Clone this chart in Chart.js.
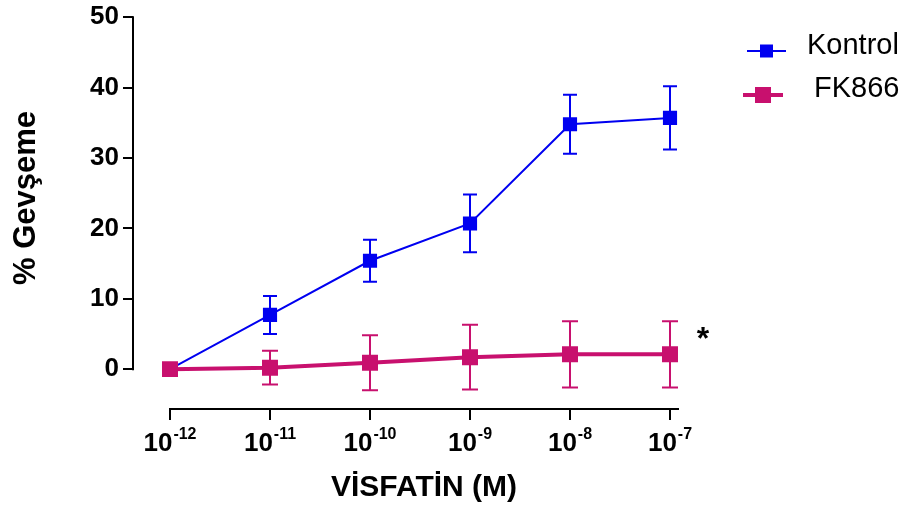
<!DOCTYPE html>
<html><head><meta charset="utf-8">
<script src="https://cdn.jsdelivr.net/npm/chart.js@4.4.0/dist/chart.umd.min.js"></script>
<style>html,body{margin:0;padding:0;background:#fff}#wrap{width:906px;height:507px}</style>
</head><body><div id="wrap"><canvas id="c" width="906" height="507"></canvas></div>
<script>
// ---- data ----
const exponents = [-12, -11, -10, -9, -8, -7];
const tickBase = ['10', '10', '10', '10', '10', '10'];
const tickExp = ['-12', '-11', '-10', '-9', '-8', '-7'];
const kontrolMean = [0, 7.7, 15.4, 20.7, 34.8, 35.7];
const kontrolSem = [0, 2.7, 3.0, 4.1, 4.2, 4.5];
const fkMean = [0, 0.2, 0.9, 1.7, 2.1, 2.1];
const fkSem = [0, 2.4, 3.9, 4.6, 4.7, 4.7];
const yTicks = [0, 10, 20, 30, 40, 50];
const seriesNames = ['Kontrol', 'FK866'];
const xTitle = 'VİSFATİN (M)';
const yTitle = '% Gevşeme';
const sigMark = '*';

const BLUE = '#0000F0';
const MAG = '#C8106E';
const FONT = "'Liberation Sans', Arial, sans-serif";
const semByIndex = [kontrolSem, fkSem];
const capHalf = [7, 8];

const toPoints = (m) => exponents.map((e, i) => ({x: e, y: m[i]}));

const decor = {
  id: 'decor',
  beforeDatasetsDraw(chart) {
    const {ctx, scales: {x, y}, chartArea} = chart;
    ctx.save();
    ctx.strokeStyle = '#000';
    ctx.lineWidth = 2;
    ctx.beginPath();
    ctx.moveTo(chartArea.left, y.getPixelForValue(yTicks[yTicks.length - 1]) - 1);
    ctx.lineTo(chartArea.left, y.getPixelForValue(yTicks[0]) + 1);
    ctx.moveTo(x.getPixelForValue(exponents[0]) - 1, chartArea.bottom);
    ctx.lineTo(x.getPixelForValue(exponents[exponents.length - 1] + 0.09), chartArea.bottom);
    ctx.stroke();
    chart.data.datasets.forEach((ds, di) => {
      const sem = semByIndex[di];
      ctx.strokeStyle = ds.borderColor;
      ctx.lineWidth = 2;
      ds.data.forEach((p, i) => {
        const s = sem[i];
        if (!s) return;
        const px = x.getPixelForValue(p.x);
        const t = y.getPixelForValue(p.y + s);
        const b = y.getPixelForValue(p.y - s);
        const c = capHalf[di];
        ctx.beginPath();
        ctx.moveTo(px, t); ctx.lineTo(px, b);
        ctx.moveTo(px - c, t); ctx.lineTo(px + c, t);
        ctx.moveTo(px - c, b); ctx.lineTo(px + c, b);
        ctx.stroke();
      });
    });
    ctx.restore();
  },
  afterDraw(chart) {
    const {ctx, scales: {x, y}, chartArea} = chart;
    ctx.save();
    ctx.fillStyle = '#000';
    exponents.forEach((e, i) => {
      const px = x.getPixelForValue(e);
      ctx.font = 'bold 26px ' + FONT;
      const wb = ctx.measureText(tickBase[i]).width;
      ctx.font = 'bold 16px ' + FONT;
      const we = ctx.measureText(tickExp[i]).width;
      const x0 = px - (wb + we + 1) / 2;
      ctx.textAlign = 'left';
      ctx.textBaseline = 'alphabetic';
      ctx.font = 'bold 26px ' + FONT;
      ctx.fillText(tickBase[i], x0, chartArea.bottom + 42);
      ctx.font = 'bold 16px ' + FONT;
      ctx.fillText(tickExp[i], x0 + wb + 1, chartArea.bottom + 30);
    });
    ctx.font = 'bold 30px ' + FONT;
    ctx.textAlign = 'center';
    ctx.textBaseline = 'alphabetic';
    ctx.fillText(xTitle, 424, 496);
    ctx.save();
    ctx.translate(35, 198);
    ctx.rotate(-Math.PI / 2);
    ctx.font = 'bold 31px ' + FONT;
    ctx.fillText(yTitle, 0, 0);
    ctx.restore();
    ctx.font = 'bold 32px ' + FONT;
    ctx.fillText(sigMark, x.getPixelForValue(-6.67), y.getPixelForValue(2.8));
    const items = [
      {name: seriesNames[0], color: BLUE, lw: 2, sq: 13, x1: 747, x2: 786, cy: 51, tx: 807, ty: 54},
      {name: seriesNames[1], color: MAG, lw: 4, sq: 16, x1: 743, x2: 783, cy: 95, tx: 814, ty: 97}
    ];
    items.forEach(it => {
      ctx.strokeStyle = it.color;
      ctx.fillStyle = it.color;
      ctx.lineWidth = it.lw;
      ctx.beginPath();
      ctx.moveTo(it.x1, it.cy); ctx.lineTo(it.x2, it.cy);
      ctx.stroke();
      const cx = (it.x1 + it.x2) / 2;
      ctx.fillRect(cx - it.sq / 2, it.cy - it.sq / 2, it.sq, it.sq);
      ctx.fillStyle = '#000';
      ctx.font = '29px ' + FONT;
      ctx.textAlign = 'left';
      ctx.fillText(it.name, it.tx, it.ty);
    });
    ctx.restore();
  }
};

new Chart(document.getElementById('c'), {
  type: 'line',
  data: {
    datasets: [
      {
        label: seriesNames[0], data: toPoints(kontrolMean),
        borderColor: BLUE, backgroundColor: BLUE, borderWidth: 2,
        pointStyle: 'rect', pointRadius: 10, pointBorderWidth: 0, pointBackgroundColor: BLUE,
        tension: 0, order: 2
      },
      {
        label: seriesNames[1], data: toPoints(fkMean),
        borderColor: MAG, backgroundColor: MAG, borderWidth: 4,
        pointStyle: 'rect', pointRadius: 11.3, pointBorderWidth: 0, pointBackgroundColor: MAG,
        tension: 0, order: 1
      }
    ]
  },
  options: {
    responsive: false, animation: false, devicePixelRatio: 1,
    layout: {padding: {top: 10, right: 191, bottom: 0, left: 0}},
    plugins: {legend: {display: false}, tooltip: {enabled: false}},
    scales: {
      x: {
        type: 'linear', min: -12.37, max: -6.55,
        afterBuildTicks: s => { s.ticks = exponents.map(v => ({value: v})); },
        afterFit: s => { s.height = 98; s.paddingLeft = 0; s.paddingRight = 0; },
        grid: {display: true, drawOnChartArea: false, drawTicks: true, tickLength: 11, color: '#000', lineWidth: 2},
        border: {display: false},
        ticks: {display: false}
      },
      y: {
        type: 'linear', min: -5.666, max: 50.85,
        afterBuildTicks: s => { s.ticks = yTicks.map(v => ({value: v})); },
        afterFit: s => { s.width = 133; s.paddingTop = 0; s.paddingBottom = 0; },
        grid: {display: true, drawOnChartArea: false, drawTicks: true, tickLength: 10, color: '#000', lineWidth: 2},
        border: {display: false},
        ticks: {color: '#000', padding: 4, font: {family: FONT, size: 26, weight: 'bold'}}
      }
    }
  },
  plugins: [decor]
});
</script>
</body></html>
